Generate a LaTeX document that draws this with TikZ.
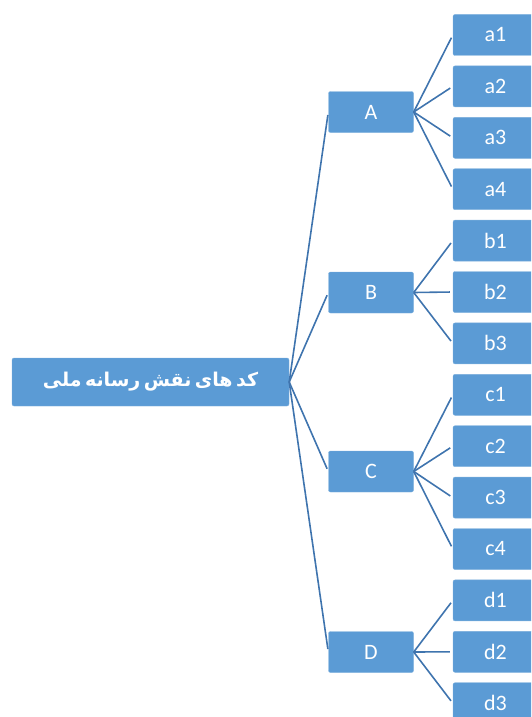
\documentclass[tikz,border=0pt]{standalone}
\usepackage{fontspec}
\setmainfont{Carlito}
\newfontfamily\arabicfont[Script=Arabic]{DejaVu Sans}
\TeXXeTstate=1
\definecolor{boxblue}{HTML}{5B9BD5}
\definecolor{linkblue}{HTML}{3F74AE}

\begin{document}
\begin{tikzpicture}[x=1pt,y=-1pt,
box/.style={fill=boxblue,draw=boxblue!80!white,rounded corners=2pt,text=white,minimum width=85pt,minimum height=41pt,inner sep=0pt,font=\fontsize{22}{22}\selectfont},
link/.style={draw=linkblue,line width=1.6pt,shorten >=3pt}]
\useasboundingbox (0,0) rectangle (531,717);
\clip (0,0) rectangle (531,717);
\node[box,minimum width=277pt,minimum height=48pt] (root) at (150.5,382) {\arabicfont\bfseries\fontsize{19}{19}\selectfont\spaceskip=0.18em\beginR کد های نقش رسانه ملی\endR};
\node[box] (A) at (371,112) {A};
\node[box] (B) at (371,292.5) {B};
\node[box] (C) at (371,471.5) {C};
\node[box] (D) at (371,652) {D};
\foreach \n/\y in {a1/35,a2/86.4,a3/137.8,a4/189.2,b1/240.6,b2/292,b3/343.4,c1/394.8,c2/446.2,c3/497.6,c4/549,d1/600.4,d2/651.8,d3/703.2}
  \node[box] (\n) at (495.5,\y) {\n};
\foreach \p in {A,B,C,D} \draw[link] (root.east)--(\p.west);
\foreach \p/\c in {A/a1,A/a2,A/a3,A/a4,B/b1,B/b2,B/b3,C/c1,C/c2,C/c3,C/c4,D/d1,D/d2,D/d3}
  \draw[link] (\p.east)--(\c.west);
\end{tikzpicture}
\end{document}
